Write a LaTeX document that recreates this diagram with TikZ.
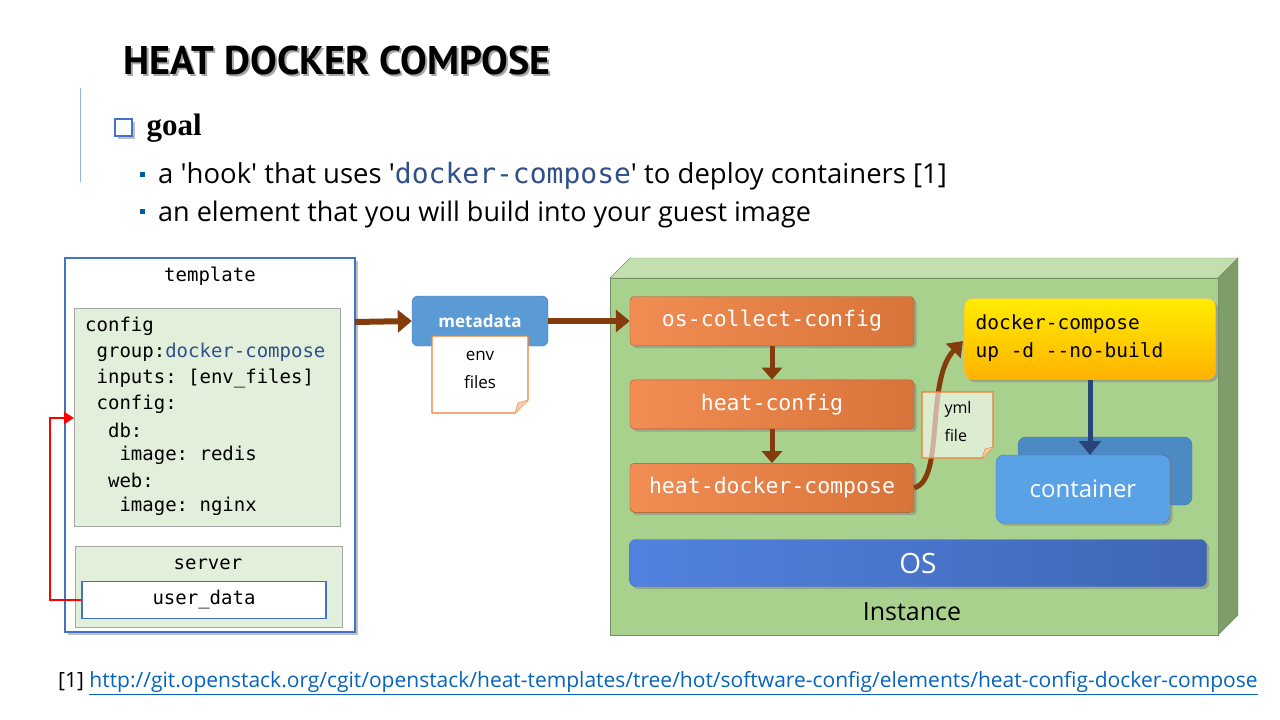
\documentclass[tikz,border=0pt]{standalone}
\usepackage{fontspec}
\setmainfont{Open Sans}
\newfontfamily\titlefont{PT Sans}
\newfontfamily\serifbold{Liberation Serif}
\setmonofont{DejaVu Sans Mono}
\usetikzlibrary{shadows,arrows.meta,positioning}
\definecolor{brownarr}{HTML}{843C0C}
\definecolor{cfggreen}{HTML}{E2EFDA}
\definecolor{boxblue}{HTML}{4472C4}
\definecolor{metablue}{HTML}{5B9BD5}
\definecolor{contblue}{HTML}{5AA2E6}
\definecolor{osleft}{HTML}{5282E0}
\definecolor{osright}{HTML}{3F66B4}
\definecolor{orng}{HTML}{F08040}
\definecolor{notebord}{HTML}{ED7D31}
\definecolor{instgreen}{HTML}{A9D18E}
\definecolor{linkblue}{HTML}{0563C1}
\newcommand{\sq}{\textquotesingle}
\tikzset{
  flow/.style={draw=brownarr, line width=6pt, -{Triangle[length=14pt,width=22pt]}},
  agentbox/.style={rounded corners=4pt, draw=orng!70!black, left color=orng!90!white, right color=orng!90!black,
    minimum width=284pt, minimum height=49pt, text=white, font=\fontsize{21.5}{24}\ttfamily, drop shadow},
  note/.style={draw=notebord, line width=1.2pt},
  code/.style={font=\fontsize{19}{26}\ttfamily, anchor=west, inner sep=0pt},
}
\begin{document}
\begin{tikzpicture}[x=1pt,y=-1pt]
    \useasboundingbox (0,0) rectangle (1280,720);
    % Title and bullets
    \node[anchor=west, font=\titlefont\bfseries\fontsize{40}{44}\selectfont, gray!70] (titleshadow) at (122,62) {HEAT DOCKER COMPOSE};
    \node[anchor=west, font=\titlefont\bfseries\fontsize{40}{44}\selectfont] (title) at (120,60) {HEAT DOCKER COMPOSE};
    \draw[metablue!70, line width=1pt] (80,88) -- (80,182);
    \draw[boxblue, line width=1.8pt, fill=white, drop shadow] (115,119) rectangle (132,136);
    \node[anchor=west, font=\serifbold\bfseries\fontsize{31}{34}\selectfont] (goal) at (143,128) {goal};
    \fill[teal!70!blue] (140,172) rectangle (145,177);
    \fill[teal!70!blue] (140,209) rectangle (145,214);
    \node[anchor=west, font=\fontsize{27.5}{30}\selectfont, inner sep=0pt] (hook) at (158,176)
        {a \sq hook\sq{} that uses \sq{\color{boxblue!70!black}\ttfamily\fontsize{28}{30}\selectfont docker-compose}\sq{} to deploy containers [1]};
    \node[anchor=west, font=\fontsize{27}{30}\selectfont, inner sep=0pt] (element) at (158,214)
        {an element that you will build into your guest image};

    % Template
    \draw[boxblue, line width=1.3pt, fill=white, drop shadow] (65,258) rectangle (355,632);
    \coordinate (tplE) at (355,322);
    \node[font=\fontsize{19}{22}\ttfamily] (template) at (210,276) {template};
    \draw[gray!70, fill=cfggreen] (74,308) rectangle (340,526);
    \node[code] (c1) at (85,326) {config};
    \node[code] (c2) at (85,352) {\ group:{\color{boxblue!70!black}docker-compose}};
    \node[code] (c3) at (85,378) {\ inputs: [env\_files]};
    \node[code] (c4) at (85,404) {\ config:};
    \node[code] (c5) at (85,430) {\ \ db:};
    \node[code] (c6) at (85,455) {\ \ \ image: redis};
    \node[code] (c7) at (85,480) {\ \ web:};
    \node[code] (c8) at (85,506) {\ \ \ image: nginx};
    \coordinate (cfgW) at (74,418);
    \draw[gray!70, fill=cfggreen] (75,546) rectangle (342,627);
    \node[font=\fontsize{19}{22}\ttfamily] (server) at (208,564) {server};
    \node[draw=boxblue, line width=1.3pt, fill=white, minimum width=244pt, minimum height=37pt,
          font=\fontsize{19}{22}\ttfamily] (userdata) at (204,600) {user\_data};
    \draw[red, line width=2pt, -{Triangle[length=10pt,width=12pt]}] (userdata.west) -- (50,600) -- (50,418) -- (cfgW);

    % Metadata
    \node[rounded corners=6pt, draw=boxblue, fill=metablue, minimum width=136pt, minimum height=50pt,
          text=white, font=\bfseries\fontsize{17}{20}\selectfont] (metadata) at (480,321) {metadata};
    \draw[note, fill=white] (432,336) -- (528,336) -- (528,400) -- (515,413) -- (432,413) -- cycle;
    \draw[notebord, fill=notebord!40] (528,400) -- (518,403) -- (515,413);
    \node[align=center, font=\fontsize{17}{28}\selectfont] (envfiles) at (480,370) {env\\files};

    % Instance
    \fill[instgreen!70!white, draw=instgreen!70!black] (610,278) -- (630,258) -- (1238,258) -- (1218,278) -- cycle;
    \fill[instgreen!75!black, draw=instgreen!70!black] (1218,278) -- (1238,258) -- (1238,615) -- (1218,635) -- cycle;
    \draw[fill=instgreen, draw=instgreen!70!black] (610,278) rectangle (1218,635);
    \node[font=\fontsize{25}{28}\selectfont] (instance) at (912,612) {Instance};

    \node[agentbox] (occ) at (772,321) {os-collect-config};
    \node[agentbox, below=34pt of occ] (hc) {heat-config};
    \node[agentbox, below=34pt of hc] (hdc) {heat-docker-compose};
    \draw[flow] (tplE) -- (metadata.west);
    \draw[flow] (metadata.east) -- (occ.west);
    \draw[flow, line width=5pt, -{Triangle[length=12pt,width=20pt]}] (occ) -- (hc);
    \draw[flow, line width=5pt, -{Triangle[length=12pt,width=20pt]}] (hc) -- (hdc);

    \node[rounded corners=8pt, draw=orange!60, top color=yellow!85!orange, bottom color=orange!60!yellow,
          minimum width=251pt, minimum height=81pt, drop shadow] (compose) at (1090,339) {};
    \node[anchor=west, align=left, font=\fontsize{19.5}{28}\ttfamily] (composetxt) at (972,338)
        {docker-compose\\up -d --no-build};
    \coordinate (composeW) at (963,341);
    \draw[flow, line width=5pt, -{Triangle[length=14pt,width=20pt]}] (hdc.east) .. controls (945,480) and (925,380) .. (composeW);

    \draw[note, fill=white, fill opacity=0.6] (922,392) -- (993,392) -- (993,447) -- (982,458) -- (922,458) -- cycle;
    \draw[notebord, fill=notebord!40] (993,447) -- (985,449) -- (982,458);
    \node[align=left, font=\fontsize{16}{28}\selectfont] (ymlfile) at (958,421) {yml\\file};

    \node[rounded corners=8pt, draw=boxblue, fill=contblue!85!black, minimum width=174pt, minimum height=68pt] (contback) at (1105,471) {};
    \node[rounded corners=8pt, draw=boxblue, fill=contblue, minimum width=174pt, minimum height=68pt,
          text=white, font=\fontsize{24}{28}\selectfont, drop shadow] (container) at (1083,489) {container};
    \coordinate (contN) at (1090,455);
    \draw[draw=boxblue!60!black, line width=5pt, -{Triangle[length=14pt,width=22pt]}] (compose.south -| contN) -- (contN);
    \node[rounded corners=6pt, draw=boxblue, left color=osleft, right color=osright,
          minimum width=577pt, minimum height=47pt, text=white, font=\fontsize{28}{30}\selectfont, drop shadow] (os) at (918,563) {OS};

    % Footnote
    \node[anchor=west, font=\fontsize{21}{24}\selectfont, inner sep=0pt] (fn) at (58,683)
        {[1] {\color{linkblue}\underline{http://git.openstack.org/cgit/openstack/heat-templates/tree/hot/software-config/elements/heat-config-docker-compose}}};
\end{tikzpicture}
\end{document}
